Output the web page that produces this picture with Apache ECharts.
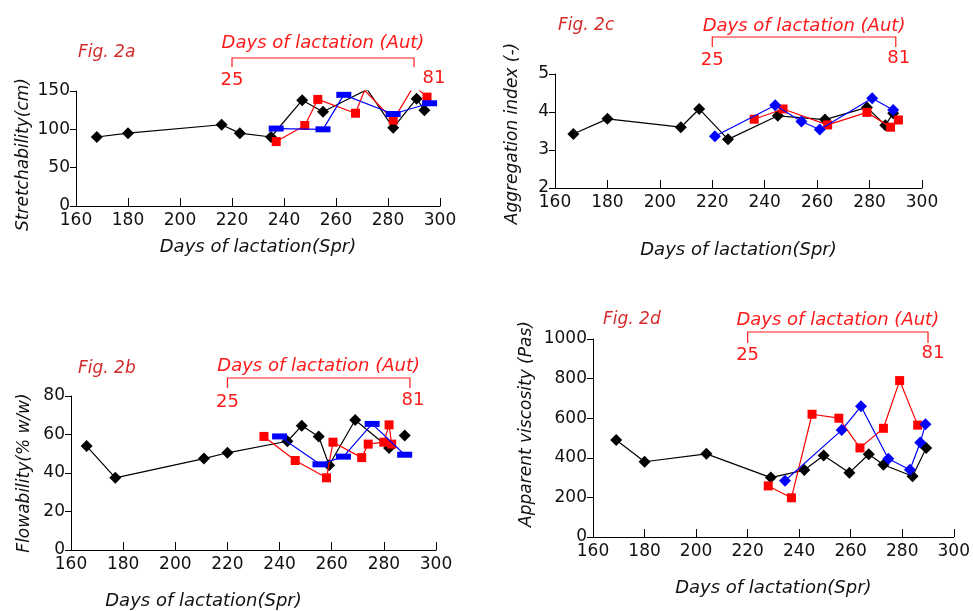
<!DOCTYPE html>
<html>
<head>
<meta charset="utf-8">
<script src="https://cdn.jsdelivr.net/npm/echarts@6/dist/echarts.min.js"></script>
<style>html,body{margin:0;padding:0;background:#fff;}#c{width:973px;height:611px;}</style>
</head>
<body>
<div id="c"></div>
<script>
// ---- data: [days of lactation (Spr), value] ----
const xTicks = [160, 180, 200, 220, 240, 260, 280, 300];

// Fig 2a Stretchability (cm)
const stretchBlack = [[168,90],[180,95],[216,106],[223,95],[235,90],[247,138],[255,123],[272,152],[282,102],[291,140],[294,125]];
const stretchRed   = [[237,84],[248,105],[253,139],[267.5,121],[271,151],[282,112],[290,157],[295,142]];
const stretchBlue  = [[237,101],[255,100],[263,145],[282,120],[296,134]];

// Fig 2c Aggregation index (-)
const aggBlack = [[167,3.42],[180,3.82],[208,3.6],[215,4.08],[226,3.28],[245,3.9],[263,3.8],[279,4.12],[286,3.65],[289,3.97]];
const aggRed   = [[236,3.81],[247,4.08],[264,3.66],[279,3.99],[288,3.6],[291,3.79]];
const aggBlue  = [[221,3.36],[244,4.18],[254,3.75],[261,3.54],[281,4.36],[289,4.05]];

// Fig 2b Flowability (% w/w)
const flowBlack = [[166,54],[177,37.5],[211,47.5],[220,50.5],[243,56.5],[248.5,64.5],[255,59],[259,44],[269,67.5],[282,53]];
const flowBlackExtra = [[288,59.5]];
const flowRed   = [[234,59],[246,46.5],[258,37.5],[260.5,56],[271.5,48],[274,55],[280,56],[282,65],[283,55]];
const flowBlue  = [[240,59],[255.5,44.5],[264.5,48.5],[275.5,65.5],[288,49.5]];

// Fig 2d Apparent viscosity (Pas)
const viscBlack = [[169,490],[180,380],[204,420],[229,300],[242,338],[249.5,412],[259.5,325],[267,418],[272.7,365],[284,307],[289.3,450]];
const viscRed   = [[228,258],[237,198],[245,620],[255.4,600],[263.6,450],[272.7,549],[279,790],[286,565]];
const viscBlue  = [[234.5,284],[256.5,540],[264,660],[274.6,395],[283,340],[287,477],[289,570]];

const panels = [
  {fig:'Fig. 2a', yName:'Stretchability(cm)', yMax:150, yMin:0, yInt:50, black:stretchBlack, red:stretchRed, blue:stretchBlue, blueSym:'rect', blueSize:[15,6]},
  {fig:'Fig. 2c', yName:'Aggregation index (-)', yMax:5, yMin:2, yInt:1, black:aggBlack, red:aggRed, blue:aggBlue, blueSym:'diamond', blueSize:[12,12]},
  {fig:'Fig. 2b', yName:'Flowability(% w/w)', yMax:80, yMin:0, yInt:20, black:flowBlack, red:flowRed, blue:flowBlue, blueSym:'rect', blueSize:[15,6], extra:flowBlackExtra},
  {fig:'Fig. 2d', yName:'Apparent viscosity (Pas)', yMax:1000, yMin:0, yInt:200, black:viscBlack, red:viscRed, blue:viscBlue, blueSym:'diamond', blueSize:[12,12]}
];
const bracketDays = [220, 290];
const bracketLabels = ['25', '81'];

// ---- layout ----
const grids = [
  {left:76, top:91, width:364, height:115},
  {left:555, top:74, width:367, height:114},
  {left:71, top:396, width:365, height:156},
  {left:593, top:339, width:365, height:198}
];
const xNameGap = [32, 53, 42, 42];
const xNamePad = [[0,0,0,0],[0,0,0,0],[0,100,0,0],[0,0,0,0]];
const yNameGap = [44, 34, 38, 58];
const yNamePad = [[0,0,0,-12],[0,0,0,-5],[0,0,0,0],[0,0,0,28]];

const FONT = 'DejaVu Sans';
const option = {
  backgroundColor:'#fff',
  animation:false,
  grid: grids,
  xAxis: grids.map((g,i)=>({
    type:'value', gridIndex:i, min:xTicks[0], max:xTicks[xTicks.length-1], interval:20,
    name:'Days of lactation(Spr)', nameLocation:'middle', nameGap:xNameGap[i],
    nameTextStyle:{fontFamily:FONT, fontStyle:'italic', fontSize:18, color:'#111', padding:xNamePad[i]},
    axisLine:{lineStyle:{color:'#000', width:1}},
    axisTick:{inside:true, length:8, lineStyle:{color:'#000'}},
    axisLabel:{fontFamily:FONT, fontSize:17, color:'#111', margin:6},
    splitLine:{show:false}
  })),
  yAxis: panels.map((p,i)=>({
    type:'value', gridIndex:i, min:p.yMin, max:p.yMax, interval:p.yInt,
    name:p.yName, nameLocation:'middle', nameGap:yNameGap[i], nameRotate:90,
    nameTextStyle:{fontFamily:FONT, fontStyle:'italic', fontSize:17, color:'#111', padding:yNamePad[i]},
    axisLine:{show:true, lineStyle:{color:'#000', width:1}},
    axisTick:{show:true, inside:false, length:6, lineStyle:{color:'#000'}},
    axisLabel:{fontFamily:FONT, fontSize:17, color:'#111', margin:6, formatter:(v)=>String(v)},
    splitLine:{show:false}
  })),
  series: []
};
panels.forEach((p,i)=>{
  option.series.push({type:'line', xAxisIndex:i, yAxisIndex:i, data:p.black, symbol:'diamond', symbolSize:[12,12],
    itemStyle:{color:'#000'}, lineStyle:{color:'#000', width:1.2}, z:3});
  option.series.push({type:'line', xAxisIndex:i, yAxisIndex:i, data:p.red, symbol:'rect', symbolSize:[9,9],
    itemStyle:{color:'#f00'}, lineStyle:{color:'#f00', width:1.2}, z:4});
  option.series.push({type:'line', xAxisIndex:i, yAxisIndex:i, data:p.blue, symbol:p.blueSym, symbolSize:p.blueSize,
    itemStyle:{color:'#0000ff'}, lineStyle:{color:'#0000ff', width:1.2}, z:5});
  if (p.extra) option.series.push({type:'scatter', xAxisIndex:i, yAxisIndex:i, data:p.extra, symbol:'diamond', symbolSize:[12,12],
    itemStyle:{color:'#000', opacity:1}, z:3});
});

const chart = echarts.init(document.getElementById('c'), null, {renderer:'canvas'});
chart.setOption(option);

// ---- red annotations (bracket placed through the axis scale) ----
const annY = [ // [text y, bracket y, bracket bottom, number y, fig y]
  [43, 58, 67, 80, 53],
  [26, 37, 47, 60, 26],
  [366, 378, 388, 402, 369],
  [320, 332, 343, 355, 320]
];
const figX = [78, 558, 78, 603];
const numOffset = [[0,20],[0,3],[0,3],[0,5]];
const RED = '#ff1a1a';
const gfx = [];
panels.forEach((p,i)=>{
  const xl = chart.convertToPixel({xAxisIndex:i}, bracketDays[0]);
  const xr = chart.convertToPixel({xAxisIndex:i}, bracketDays[1]);
  const a = annY[i];
  gfx.push({type:'polyline', shape:{points:[[xl,a[2]],[xl,a[1]],[xr,a[1]],[xr,a[2]]]}, style:{stroke:RED, lineWidth:1.2, fill:null}});
  gfx.push({type:'text', x:(xl+xr)/2, y:a[0], style:{text:'Days of lactation (Aut)', fill:RED, font:'italic 18px "DejaVu Sans"', align:'center', verticalAlign:'middle'}});
  gfx.push({type:'text', x:xl+numOffset[i][0], y:a[3], style:{text:bracketLabels[0], fill:RED, font:'18px "DejaVu Sans"', align:'center', verticalAlign:'middle'}});
  gfx.push({type:'text', x:xr+numOffset[i][1], y:a[3]-2, style:{text:bracketLabels[1], fill:RED, font:'18px "DejaVu Sans"', align:'center', verticalAlign:'middle'}});
  gfx.push({type:'text', x:figX[i], y:a[4], style:{text:p.fig, fill:'#d42a2a', font:'italic 17px "DejaVu Sans"', align:'left', verticalAlign:'middle'}});
});
chart.setOption({graphic: gfx});
</script>
</body>
</html>
